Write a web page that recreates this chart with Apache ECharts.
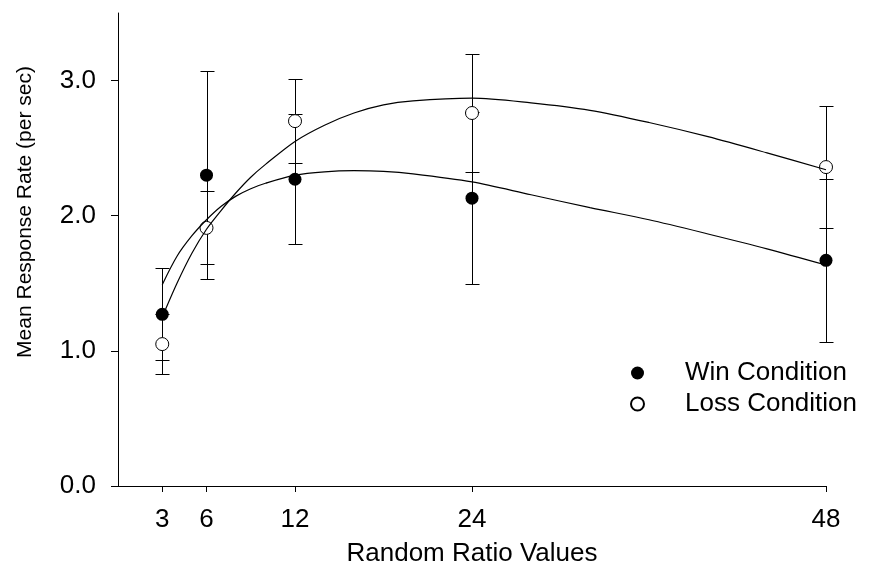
<!DOCTYPE html>
<html>
<head>
<meta charset="utf-8">
<script src="https://cdn.jsdelivr.net/npm/echarts@6/dist/echarts.min.js"></script>
<style>
  html, body { margin: 0; padding: 0; background: #fff; }
  #chart { width: 873px; height: 577px; }
</style>
</head>
<body>
<div id="chart"></div>
<script>
// ratio values on the x axis
const ratioValues = [3, 6, 12, 24, 48]
const yTicks = [0, 1, 2, 3]

// means and error bar half-lengths
const winMean = [1.27, 2.30, 2.27, 2.13, 1.67]
const winErr = [0.34, 0.77, 0.48, 0.635, 0.605]
const lossMean = [1.05, 1.91, 2.70, 2.76, 2.36]
const lossErr = [0.22, 0.27, 0.31, 0.44, 0.45]

// fitted curves
const fitX = [3, 4, 5, 6, 7, 8, 9, 10, 12, 14, 16, 18, 20, 24, 28, 32, 36, 40, 44, 48]
const winFit = [1.49, 1.70, 1.85, 1.97, 2.07, 2.145, 2.20, 2.24, 2.30, 2.325, 2.333, 2.328, 2.31, 2.25, 2.155, 2.06, 1.97, 1.865, 1.755, 1.635]
const lossFit = [1.25, 1.50, 1.72, 1.90, 2.04, 2.17, 2.285, 2.38, 2.55, 2.67, 2.76, 2.82, 2.85, 2.87, 2.835, 2.78, 2.69, 2.585, 2.465, 2.34]

const font = 'Liberation Sans, Arial, sans-serif'
const chart = echarts.init(document.getElementById('chart'))

function pairs(xs, ys) {
  return xs.map((x, i) => [x, ys[i]])
}

function crisp(v) {
  return Math.round(v) + 0.5
}

function errorBars(name, mean, err) {
  return {
    name: name,
    type: 'custom',
    data: ratioValues.map((x, i) => [x, mean[i], err[i]]),
    renderItem: function (params, api) {
      const x = api.value(0)
      const y = api.value(1)
      const e = api.value(2)
      const top = api.coord([x, y + e])
      const bot = api.coord([x, y - e])
      const cx = crisp(top[0])
      const ty = crisp(top[1])
      const by = crisp(bot[1])
      const hw = 7
      const st = { stroke: '#000', lineWidth: 1 }
      return {
        type: 'group',
        children: [
          { type: 'line', shape: { x1: cx, y1: ty, x2: cx, y2: by }, style: st },
          { type: 'line', shape: { x1: cx - hw, y1: ty, x2: cx + hw, y2: ty }, style: st },
          { type: 'line', shape: { x1: cx - hw, y1: by, x2: cx + hw, y2: by }, style: st },
        ],
      }
    },
    silent: true,
  }
}

function fitLine(name, ys) {
  return {
    name: name,
    type: 'line',
    data: pairs(fitX, ys),
    smooth: 0.3,
    showSymbol: false,
    lineStyle: { color: '#000', width: 1.2 },
    silent: true,
  }
}

chart.setOption({
  animation: false,
  grid: { left: 118, right: 47, top: 13, bottom: 91 },
  legend: {
    orient: 'vertical',
    left: 630,
    top: 360,
    padding: 0,
    itemWidth: 13,
    itemHeight: 13,
    itemGap: 5,
    data: [
      { name: 'Win Condition', icon: 'circle' },
      { name: 'Loss Condition', icon: 'circle' },
    ],
    textStyle: { fontFamily: font, fontSize: 26, color: '#000', padding: [0, 0, 0, 36] },
  },
  xAxis: {
    type: 'value',
    min: 0,
    max: 48,
    splitLine: { show: false },
    axisLine: { lineStyle: { color: '#000', width: 1 } },
    axisTick: { show: true, length: 6, customValues: ratioValues, lineStyle: { color: '#000' } },
    axisLabel: {
      customValues: ratioValues,
      margin: 21,
      fontFamily: font,
      fontSize: 26,
      color: '#000',
    },
    name: 'Random Ratio Values',
    nameLocation: 'middle',
    nameGap: 55,
    nameTextStyle: { fontFamily: font, fontSize: 26, color: '#000' },
  },
  yAxis: {
    type: 'value',
    min: 0,
    max: 3.5,
    splitLine: { show: false },
    axisLine: { show: true, lineStyle: { color: '#000', width: 1 } },
    axisTick: { show: true, length: 7, customValues: yTicks, lineStyle: { color: '#000' } },
    axisLabel: {
      customValues: yTicks,
      margin: 22,
      fontFamily: font,
      fontSize: 26,
      color: '#000',
      formatter: (v) => v.toFixed(1),
    },
  },
  graphic: [
    {
      type: 'text',
      x: 25,
      y: 212,
      rotation: Math.PI / 2,
      style: {
        text: 'Mean Response Rate (per sec)',
        fontFamily: font,
        fontSize: 21,
        fill: '#000',
        textAlign: 'center',
        textVerticalAlign: 'middle',
      },
    },
  ],
  series: [
    errorBars('winErr', winMean, winErr),
    errorBars('lossErr', lossMean, lossErr),
    fitLine('winFit', winFit),
    fitLine('lossFit', lossFit),
    {
      name: 'Win Condition',
      type: 'scatter',
      data: pairs(ratioValues, winMean),
      symbol: 'circle',
      symbolSize: 13,
      itemStyle: { color: '#000', opacity: 1 },
    },
    {
      name: 'Loss Condition',
      type: 'scatter',
      data: pairs(ratioValues, lossMean),
      symbol: 'circle',
      symbolSize: 13,
      itemStyle: { color: '#fff', borderColor: '#000', borderWidth: 1, opacity: 1 },
    },
  ],
})
</script>
</body>
</html>
